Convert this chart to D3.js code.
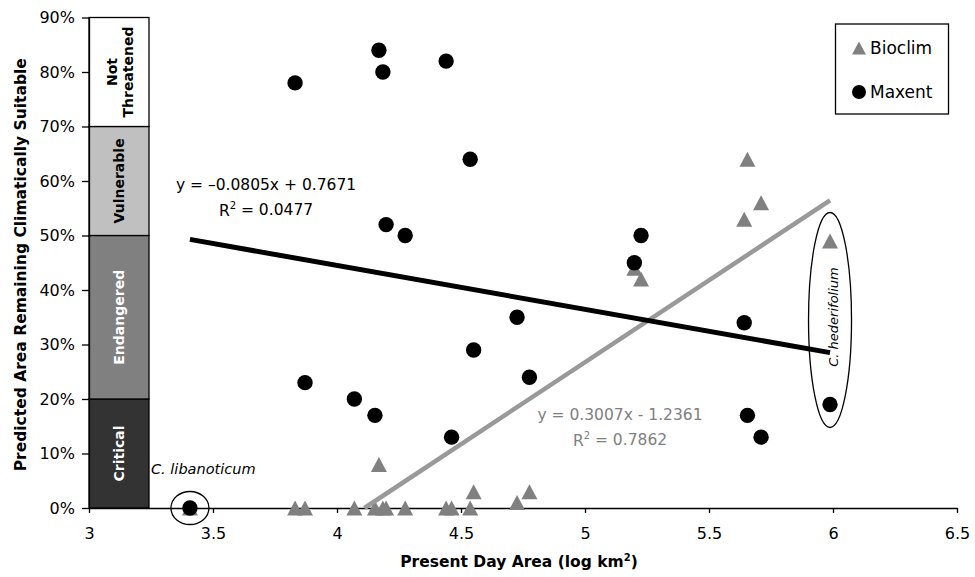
<!DOCTYPE html>
<html>
<head>
<meta charset="utf-8">
<script src="https://cdn.jsdelivr.net/npm/d3@7"></script>
<style>
  body { margin: 0; background: #fff; }
  svg { font-family: "DejaVu Sans", sans-serif; }
</style>
</head>
<body>
<div id="chart"></div>
<script>
// Species present day area (log km2), same species for both models
const presentArea = [3.407, 3.831, 3.871, 4.07, 4.153, 4.169, 4.185, 4.198, 4.275, 4.44, 4.462,
  4.537, 4.551, 4.726, 4.776, 5.199, 5.226, 5.642, 5.655, 5.71, 5.988];
// Predicted area remaining climatically suitable
const bioclimValues = [0, 0, 0, 0, 0, 0.08, 0, 0, 0, 0, 0,
  0, 0.03, 0.01, 0.03, 0.44, 0.42, 0.53, 0.64, 0.56, 0.49];
const maxentValues = [0, 0.78, 0.23, 0.20, 0.17, 0.84, 0.80, 0.52, 0.50, 0.82, 0.13,
  0.64, 0.29, 0.35, 0.24, 0.45, 0.50, 0.34, 0.17, 0.13, 0.19];

// Linear trend lines [slope, intercept]
const bioclimFit = [0.3007, -1.2361];
const maxentFit = [-0.0805, 0.7671];

// Threat categories (bands on the y axis)
const categoryNames = ["Critical", "Endangered", "Vulnerable", "Not Threatened"];
const categoryLow = [0, 0.2, 0.5, 0.7];
const categoryHigh = [0.2, 0.5, 0.7, 0.9];
const categoryFill = ["#333333", "#808080", "#c0c0c0", "#ffffff"];
const categoryText = ["#ffffff", "#ffffff", "#000000", "#000000"];

const xTicks = [3, 3.5, 4, 4.5, 5, 5.5, 6, 6.5];
const yTicks = [0, 0.1, 0.2, 0.3, 0.4, 0.5, 0.6, 0.7, 0.8, 0.9];

// Labelled species
const libanoticum = [3.407, 0];
const hederifolium = [5.988, 0.345];

const W = 975, H = 577;
const margin = { top: 17.5, right: 18, bottom: 69, left: 89 };

const svg = d3.select("#chart").append("svg")
  .attr("width", W)
  .attr("height", H);

const x = d3.scaleLinear().domain([3, 6.5]).range([margin.left, W - margin.right]);
const y = d3.scaleLinear().domain([0, 0.9]).range([H - margin.bottom, margin.top]);

// Category bands
const bandW = 60;
const bands = svg.append("g");
categoryNames.forEach((name, i) => {
  bands.append("rect")
    .attr("x", x(3))
    .attr("y", y(categoryHigh[i]))
    .attr("width", bandW)
    .attr("height", y(categoryLow[i]) - y(categoryHigh[i]))
    .attr("fill", categoryFill[i])
    .attr("stroke", "#000")
    .attr("stroke-width", 1.3);
  const cy = (y(categoryLow[i]) + y(categoryHigh[i])) / 2;
  const cx = x(3) + bandW / 2;
  const t = bands.append("text")
    .attr("transform", `translate(${cx},${cy}) rotate(-90)`)
    .attr("text-anchor", "middle")
    .attr("font-weight", "bold")
    .attr("font-size", "14px")
    .attr("fill", categoryText[i]);
  const words = name.split(" ");
  if (words.length > 1) {
    t.append("tspan").attr("x", 0).attr("dy", "-0.12em").text(words[0]);
    t.append("tspan").attr("x", 0).attr("dy", "1.1em").text(words[1]);
  } else {
    t.attr("dy", "0.36em").text(name);
  }
});

// Axes
const yAxis = svg.append("g")
  .attr("transform", `translate(${margin.left},0)`)
  .call(d3.axisLeft(y).tickValues(yTicks).tickSize(7).tickPadding(7).tickSizeOuter(0)
    .tickFormat(d3.format(".0%")));
const xAxis = svg.append("g")
  .attr("transform", `translate(0,${y(0)})`)
  .call(d3.axisBottom(x).tickValues(xTicks).tickSize(5).tickPadding(15).tickSizeOuter(0)
    .tickFormat(d => d));
[yAxis, xAxis].forEach(a => {
  a.selectAll("text").attr("font-size", "16px").attr("font-family", "DejaVu Sans").attr("fill", "#000");
  a.selectAll("line, path").attr("stroke", "#000").attr("stroke-width", 1.3);
});

// Axis titles
svg.append("text")
  .attr("transform", `translate(26,${(y(0) + y(0.9)) / 2 + 2}) rotate(-90)`)
  .attr("text-anchor", "middle")
  .attr("font-weight", "bold")
  .attr("font-size", "15.5px")
  .text("Predicted Area Remaining Climatically Suitable");

const xt = svg.append("text")
  .attr("x", 519)
  .attr("y", 567)
  .attr("text-anchor", "middle")
  .attr("font-weight", "bold")
  .attr("font-size", "15.5px");
xt.append("tspan").text("Present Day Area (log km");
xt.append("tspan").attr("font-size", "10px").attr("dy", "-0.6em").text("2");
xt.append("tspan").attr("dy", "0.38em").text(")");

// Markers
const triPath = "M0,-7.5L8,7.5L-8,7.5Z";
svg.append("g").selectAll("path")
  .data(presentArea)
  .join("path")
  .attr("d", triPath)
  .attr("transform", (d, i) => `translate(${x(d)},${y(bioclimValues[i])})`)
  .attr("fill", "#808080");

svg.append("g").selectAll("circle")
  .data(presentArea)
  .join("circle")
  .attr("cx", d => x(d))
  .attr("cy", (d, i) => y(maxentValues[i]))
  .attr("r", 7.7)
  .attr("fill", "#000");

// Trend lines
const xMin = d3.min(presentArea), xMax = d3.max(presentArea);
function fitLine(fit) {
  const x0 = Math.max(xMin, -fit[1] / fit[0] > xMin && fit[0] > 0 ? -fit[1] / fit[0] : xMin);
  return [[x0, fit[0] * x0 + fit[1]], [xMax, fit[0] * xMax + fit[1]]];
}
const line = d3.line().x(d => x(d[0])).y(d => y(d[1]));
svg.append("path")
  .datum(fitLine(bioclimFit))
  .attr("d", line)
  .attr("stroke", "#999999")
  .attr("stroke-width", 4.5)
  .attr("fill", "none");
svg.append("path")
  .datum(fitLine(maxentFit))
  .attr("d", line)
  .attr("stroke", "#000")
  .attr("stroke-width", 5)
  .attr("fill", "none");

// Equations
function equation(cx, cy, eq, r2, color) {
  const g = svg.append("g").attr("fill", color).attr("font-size", "15.5px").attr("text-anchor", "middle");
  g.append("text").attr("x", cx).attr("y", cy).text(eq);
  const t = g.append("text").attr("x", cx).attr("y", cy + 26);
  t.append("tspan").text("R");
  t.append("tspan").attr("font-size", "10px").attr("dy", "-0.7em").text("2");
  t.append("tspan").attr("dy", "0.45em").text(" = " + r2);
}
equation(266, 189.5, "y = \u20130.0805x + 0.7671", "0.0477", "#000");
equation(620, 419.5, "y = 0.3007x - 1.2361", "0.7862", "#808080");

// Annotations
svg.append("ellipse")
  .attr("cx", x(libanoticum[0]))
  .attr("cy", y(libanoticum[1]))
  .attr("rx", 19)
  .attr("ry", 16.5)
  .attr("fill", "none")
  .attr("stroke", "#000")
  .attr("stroke-width", 1.3);
svg.append("text")
  .attr("x", 151)
  .attr("y", 474)
  .attr("font-style", "italic")
  .attr("font-size", "14.5px")
  .text("C. libanoticum");

svg.append("ellipse")
  .attr("cx", x(hederifolium[0]))
  .attr("cy", y(hederifolium[1]))
  .attr("rx", 21.5)
  .attr("ry", 107.5)
  .attr("fill", "none")
  .attr("stroke", "#000")
  .attr("stroke-width", 1.3);
svg.append("text")
  .attr("transform", `translate(${x(hederifolium[0]) + 8},317) rotate(-90)`)
  .attr("text-anchor", "middle")
  .attr("font-style", "italic")
  .attr("font-size", "13px")
  .text("C. hederifolium");

// Legend
const legend = svg.append("g");
legend.append("rect")
  .attr("x", 835.5).attr("y", 24)
  .attr("width", 113).attr("height", 90)
  .attr("fill", "#fff")
  .attr("stroke", "#000")
  .attr("stroke-width", 1.3);
legend.append("path")
  .attr("d", "M0,-6.5L7,6.5L-7,6.5Z")
  .attr("transform", "translate(859,48)")
  .attr("fill", "#808080");
legend.append("circle")
  .attr("cx", 859).attr("cy", 92).attr("r", 7)
  .attr("fill", "#000");
legend.append("text").attr("x", 870).attr("y", 54).attr("font-size", "17px").text("Bioclim");
legend.append("text").attr("x", 870).attr("y", 98).attr("font-size", "17px").text("Maxent");
</script>
</body>
</html>
